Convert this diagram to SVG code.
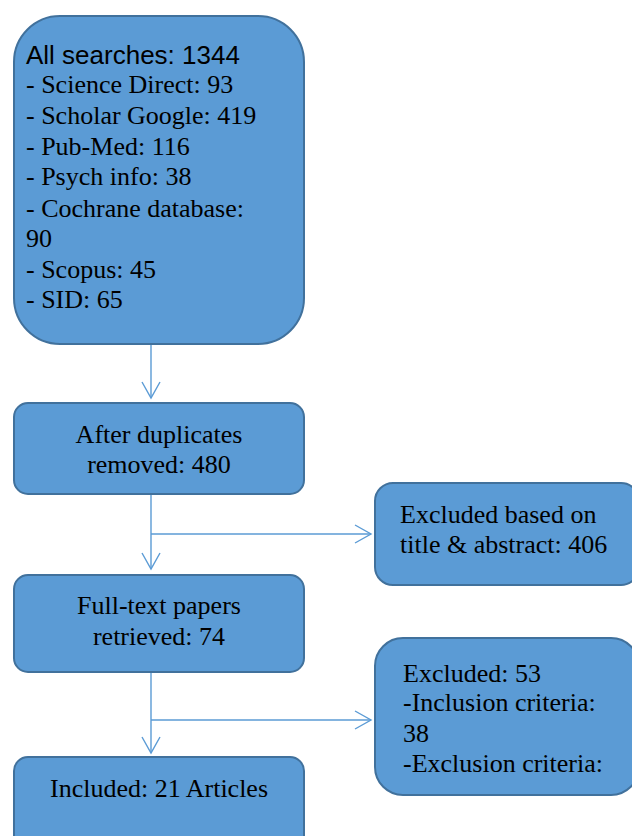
<svg xmlns="http://www.w3.org/2000/svg" width="632" height="836" viewBox="0 0 632 836">
<defs>
<style>
.box{fill:#5b9bd5;stroke:#41719c;stroke-width:2}
.t{font-family:"Liberation Serif","Times New Roman",serif;font-size:26px;fill:#000}
.s{font-family:"Liberation Sans",Arial,sans-serif;font-size:26px;fill:#000}
.c{text-anchor:middle}
.conn{fill:none;stroke:#5b9bd5;stroke-width:1.4}
</style>
<marker id="arr" viewBox="0 0 20 20" refX="18" refY="10" markerWidth="20" markerHeight="20" markerUnits="userSpaceOnUse" orient="auto">
<path d="M2,1 L18,10 L2,19" fill="none" stroke="#5b9bd5" stroke-width="1.4"/>
</marker>
</defs>
<g id="connectors">
<line class="conn" x1="151" y1="344" x2="151" y2="398" marker-end="url(#arr)"/>
<line class="conn" x1="151" y1="494" x2="151" y2="569" marker-end="url(#arr)"/>
<line class="conn" x1="151" y1="534" x2="371" y2="534" marker-end="url(#arr)"/>
<line class="conn" x1="151" y1="672" x2="151" y2="753" marker-end="url(#arr)"/>
<line class="conn" x1="151" y1="720" x2="371" y2="720" marker-end="url(#arr)"/>
</g>
<g id="all-searches">
<rect class="box" x="14" y="16" width="290" height="328" rx="46"/>
<text class="s" x="26" y="64">All searches: 1344</text>
<text class="t" x="26" y="93">- Science Direct: 93</text>
<text class="t" x="26" y="124">- Scholar Google: 419</text>
<text class="t" x="26" y="155">- Pub-Med: 116</text>
<text class="t" x="26" y="185">- Psych info: 38</text>
<text class="t" x="26" y="217">- Cochrane database:</text>
<text class="t" x="26" y="247">90</text>
<text class="t" x="26" y="278">- Scopus: 45</text>
<text class="t" x="26" y="308">- SID: 65</text>
</g>
<g id="after-duplicates">
<rect class="box" x="14" y="403" width="290" height="91" rx="14"/>
<text class="t c" x="159" y="443">After duplicates</text>
<text class="t c" x="159" y="473">removed: 480</text>
</g>
<g id="excluded-title">
<rect class="box" x="375" y="483" width="264" height="102" rx="18"/>
<text class="t" x="400" y="523">Excluded based on</text>
<text class="t" x="400" y="553">title &amp; abstract: 406</text>
</g>
<g id="full-text">
<rect class="box" x="14" y="575" width="290" height="97" rx="14"/>
<text class="t c" x="159" y="614">Full-text papers</text>
<text class="t c" x="159" y="645">retrieved: 74</text>
</g>
<g id="excluded-criteria">
<rect class="box" x="375" y="638" width="264" height="157" rx="28"/>
<text class="t" x="403" y="682">Excluded: 53</text>
<text class="t" x="403" y="711">-Inclusion criteria:</text>
<text class="t" x="403" y="742">38</text>
<text class="t" x="403" y="772">-Exclusion criteria:</text>
</g>
<g id="included">
<rect class="box" x="14" y="757" width="290" height="100" rx="14"/>
<text class="t c" x="159" y="797">Included: 21 Articles</text>
</g>
</svg>
